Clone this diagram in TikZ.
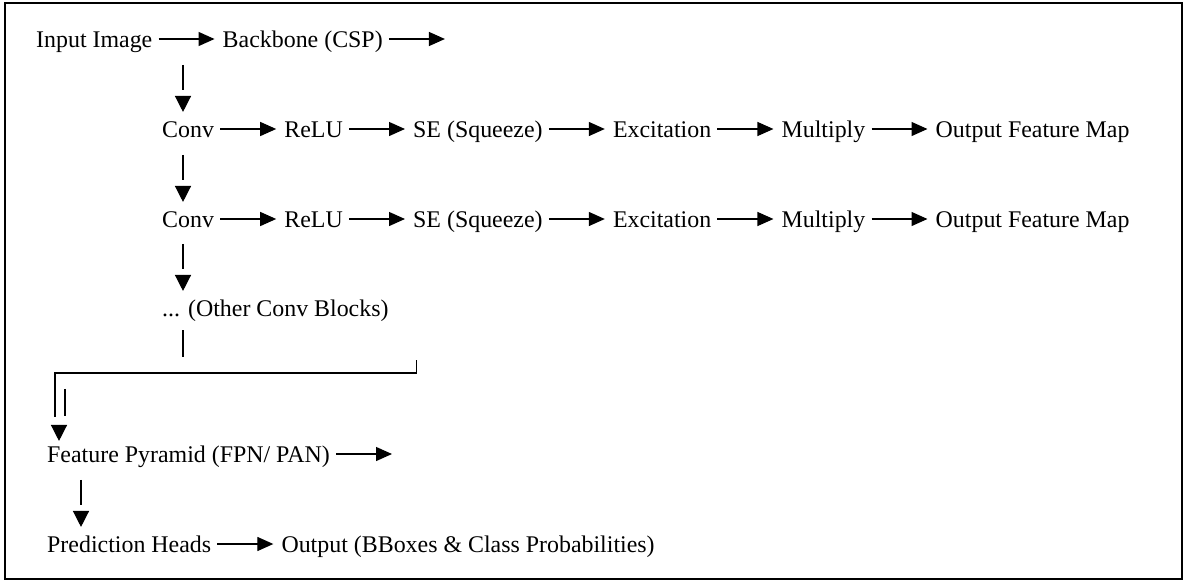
\documentclass[tikz,border=0pt]{standalone}
\usepackage{fontspec}
\setmainfont{Liberation Serif}
\usetikzlibrary{positioning,arrows.meta,calc}

\tikzset{
  lbl/.style={inner sep=0pt, text height=22pt, text depth=5.7pt},
  flow/.style={-{Triangle[length=16pt,width=14pt]}, line width=1.3pt, shorten <=6pt, shorten >=8pt},
  stem/.style={line width=1.3pt},
  tip/.style={-{Triangle[length=16pt,width=16pt]}, line width=1.3pt},
}

\begin{document}
\begin{tikzpicture}[x=1pt, y=-1pt, node distance=70pt, font=\fontsize{23.9}{28}\selectfont]
	\useasboundingbox (0,0) rectangle (1187,581);
	\draw[line width=1.8pt] (5,3) rectangle (1182,579);

	% input and backbone
	\node[lbl, anchor=west] (img) at (36,39) {Input Image};
	\node[lbl, right=of img] (bb) {Backbone (CSP)};
	\coordinate[right=of bb] (bbout);
	\draw[flow] (img.east) -- (bb.west);
	\draw[flow] (bb.east) -- (bbout);

	% first conv block
	\node[lbl, anchor=west] (conv1) at (162,129) {Conv};
	\node[lbl, right=of conv1] (relu1) {ReLU};
	\node[lbl, right=of relu1] (se1) {SE (Squeeze)};
	\node[lbl, right=of se1] (exc1) {Excitation};
	\node[lbl, right=of exc1] (mul1) {Multiply};
	\node[lbl, right=of mul1] (out1) {Output Feature Map};
	\draw[flow] (conv1.east) -- (relu1.west);
	\draw[flow] (relu1.east) -- (se1.west);
	\draw[flow] (se1.east) -- (exc1.west);
	\draw[flow] (exc1.east) -- (mul1.west);
	\draw[flow] (mul1.east) -- (out1.west);

	% second conv block
	\node[lbl, anchor=west] (conv2) at (162,219) {Conv};
	\node[lbl, right=of conv2] (relu2) {ReLU};
	\node[lbl, right=of relu2] (se2) {SE (Squeeze)};
	\node[lbl, right=of se2] (exc2) {Excitation};
	\node[lbl, right=of exc2] (mul2) {Multiply};
	\node[lbl, right=of mul2] (out2) {Output Feature Map};
	\draw[flow] (conv2.east) -- (relu2.west);
	\draw[flow] (relu2.east) -- (se2.west);
	\draw[flow] (se2.east) -- (exc2.west);
	\draw[flow] (exc2.east) -- (mul2.west);
	\draw[flow] (mul2.east) -- (out2.west);

	\node[lbl, anchor=west] (dots) at (162,308) {... (Other Conv Blocks)};

	% neck and head
	\node[lbl, anchor=west] (fpn) at (47,454) {Feature Pyramid (FPN/ PAN)};
	\coordinate[right=of fpn] (fpnout);
	\draw[flow] (fpn.east) -- (fpnout);
	\node[lbl, anchor=west] (pred) at (47,544) {Prediction Heads};
	\node[lbl, right=of pred] (res) {Output (BBoxes \& Class Probabilities)};
	\draw[flow] (pred.east) -- (res.west);

	% vertical links
	\draw[stem] ($(conv1.north west)+(21,-50)$) -- ($(conv1.north west)+(21,-25)$);
	\draw[tip] ($(conv1.north west)+(21,-19)$) -- ($(conv1.north west)+(21,-3)$);
	\draw[stem] ($(conv2.north west)+(21,-50)$) -- ($(conv2.north west)+(21,-25)$);
	\draw[tip] ($(conv2.north west)+(21,-19)$) -- ($(conv2.north west)+(21,-3)$);
	\draw[stem] ($(dots.north west)+(21,-50)$) -- ($(dots.north west)+(21,-25)$);
	\draw[tip] ($(dots.north west)+(21,-19)$) -- ($(dots.north west)+(21,-3)$);
	\draw[stem] ($(dots.south west)+(21,8)$) -- ($(dots.south west)+(21,35)$);

	% bracket into the pyramid
	\coordinate (brk) at ($(dots.south east)+(28,38)$);
	\draw[stem] (brk) |- ($(fpn.north west)+(8,-67)$) -- ($(fpn.north west)+(8,-23)$);
	\draw[stem] ($(fpn.north west)+(18,-51)$) -- ($(fpn.north west)+(18,-24)$);
	\draw[tip] ($(fpn.north west)+(12,-15)$) -- ($(fpn.north west)+(12,1)$);

	\draw[stem] ($(pred.north west)+(34,-50)$) -- ($(pred.north west)+(34,-25)$);
	\draw[tip] ($(pred.north west)+(34,-19)$) -- ($(pred.north west)+(34,-3)$);
\end{tikzpicture}
\end{document}
